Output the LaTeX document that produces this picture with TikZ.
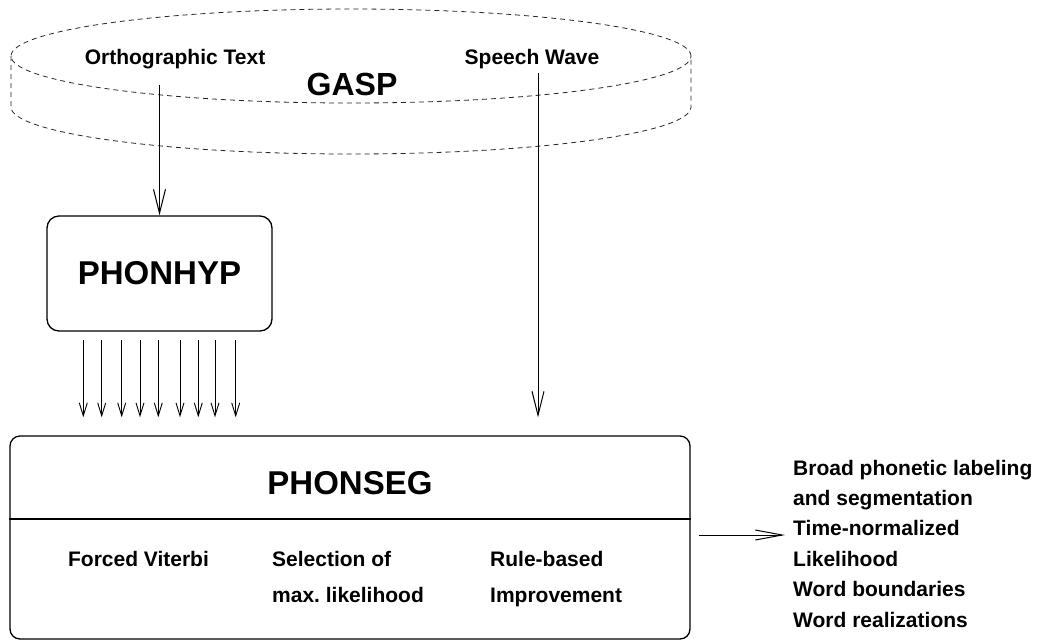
\documentclass[tikz,border=0pt]{standalone}
\usepackage{fontspec}
\setmainfont{Liberation Sans}
\usetikzlibrary{arrows.meta}
\frenchspacing
\begin{document}
\begin{tikzpicture}[x=1pt,y=1pt,
  lbl/.style={font=\fontsize{21}{25}\selectfont\bfseries, inner sep=0pt},
  big/.style={font=\fontsize{33}{38}\selectfont\bfseries, inner sep=0pt},
  boxstyle/.style={draw, line width=1.3pt, rounded corners=12pt},
  cyl/.style={draw=black!85, line width=0.8pt, dash pattern=on 5pt off 4pt},
  bigarrow/.style={line width=1pt, -{Straight Barb[length=24pt,width=12pt]}},
  smallarrow/.style={line width=0.9pt, -{Straight Barb[length=13pt,width=8pt]}},
  outarrow/.style={line width=1pt, -{Straight Barb[length=27pt,width=10pt]}},
]
\useasboundingbox (0,0) rectangle (1039,-641);

% GASP cylinder
\draw[cyl] (351,-56) ellipse [x radius=340pt, y radius=47pt];
\draw[cyl] (11,-56) -- (11,-107) arc[start angle=180, end angle=360, x radius=340pt, y radius=47pt] -- (691,-56);

\node[lbl, anchor=base] (ortho) at (175,-64) {Orthographic Text};
\node[lbl, anchor=base] (speech) at (532,-64) {Speech Wave};
\node[font=\fontsize{32}{36}\selectfont\bfseries, inner sep=0pt, anchor=base] (gasp) at (352,-95) {GASP};

% PHONHYP
\node[boxstyle, big, minimum width=225pt, minimum height=115pt] (phonhyp) at (159.5,-273.5) {PHONHYP};

% PHONSEG
\node[boxstyle, rounded corners=10pt, minimum width=680pt, minimum height=203pt] (phonseg) at (350,-537.5) {};
\node[big, anchor=base] (phonsegt) at (350,-494) {PHONSEG};
\coordinate (div) at (0,-519);
\draw[line width=1.3pt] (phonseg.west |- div) -- (phonseg.east |- div);

\node[lbl, anchor=base] (viterbi) at (138.5,-566) {Forced Viterbi};
\node[lbl, anchor=base west] (sel1) at (272,-566) {Selection of};
\node[lbl, anchor=base west] (sel2) at (272,-602) {max. likelihood};
\node[lbl, anchor=base west] (rule1) at (490,-566) {Rule-based};
\node[lbl, anchor=base west] (rule2) at (490,-602) {Improvement};

% output labels
\node[lbl, anchor=base west] (l1) at (793,-475) {Broad phonetic labeling};
\node[lbl, anchor=base west] (l2) at (793,-505.4) {and segmentation};
\node[lbl, anchor=base west] (l3) at (793,-535.8) {Time-normalized};
\node[lbl, anchor=base west] (l4) at (793,-566.2) {Likelihood};
\node[lbl, anchor=base west] (l5) at (793,-596.6) {Word boundaries};
\node[lbl, anchor=base west] (l6) at (793,-627) {Word realizations};

% arrows
\coordinate (o1) at (159.5,-85);
\draw[bigarrow] (o1) -- (phonhyp.north);
\coordinate (s1) at (538,-73);
\draw[bigarrow, shorten >=18pt] (s1) -- (s1 |- phonseg.north);

\foreach \x [count=\i] in {83.3,101.7,121.7,140,158.3,180,198.3,215,235.7} {
  \coordinate (t\i) at (\x,0);
  \draw[smallarrow, shorten <=8pt, shorten >=18pt] (t\i |- phonhyp.south) -- (t\i |- phonseg.north);
}

\coordinate (outy) at (0,-535);
\draw[outarrow, shorten <=8pt, shorten >=8pt] (phonseg.east |- outy) -- (l3.west |- outy);
\end{tikzpicture}
\end{document}
